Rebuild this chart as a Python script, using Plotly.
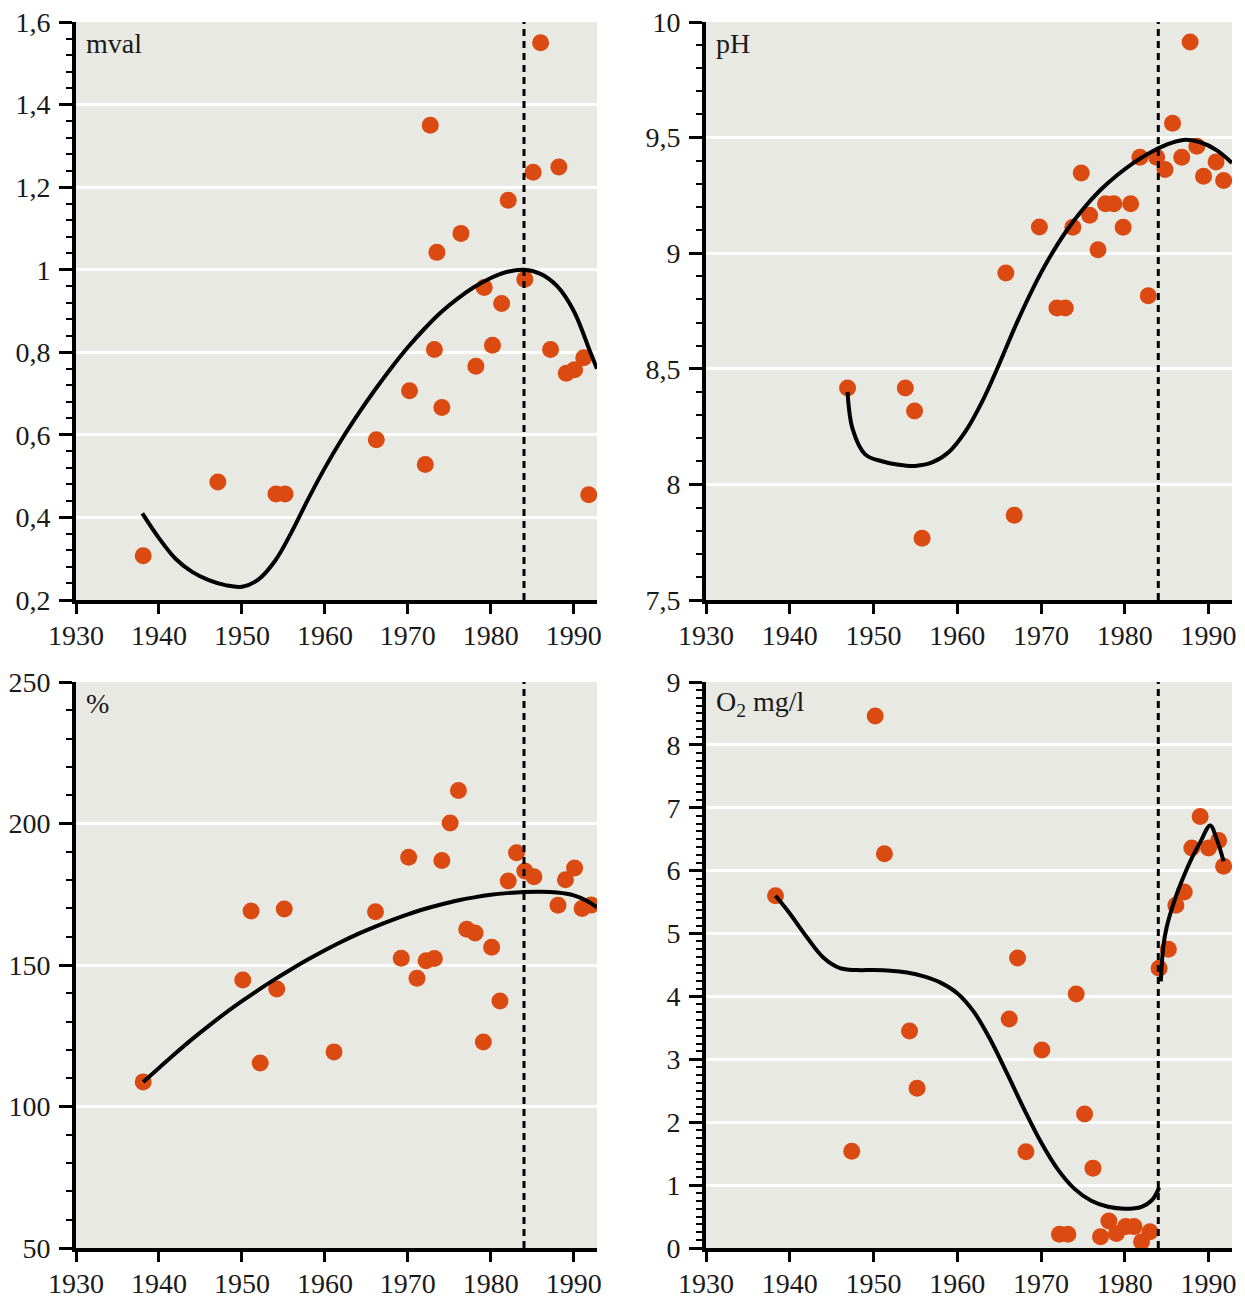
import plotly.graph_objects as go

# ---------------- data ----------------
year_ticks = [1930, 1940, 1950, 1960, 1970, 1980, 1990]
year_ticktext = ["1930", "1940", "1950", "1960", "1970", "1980", "1990"]
cutoff_year = 1984

# Panel 1: mval
mval_ticks = [0.2, 0.4, 0.6, 0.8, 1.0, 1.2, 1.4, 1.6]
mval_ticktext = ["0,2", "0,4", "0,6", "0,8", "1", "1,2", "1,4", "1,6"]
mval_year = [1938.1, 1947.1, 1954.1, 1955.2, 1966.2, 1970.2, 1972.1, 1972.7, 1973.2, 1973.5,
             1974.1, 1976.4, 1978.2, 1979.2, 1980.2, 1981.3, 1982.1, 1984.1, 1985.1, 1986.0,
             1987.2, 1988.2, 1989.1, 1990.1, 1991.2, 1991.8]
mval_val = [0.307, 0.486, 0.457, 0.457, 0.588, 0.707, 0.528, 1.35, 0.807, 1.042,
            0.666, 1.088, 0.766, 0.957, 0.817, 0.918, 1.168, 0.977, 1.236, 1.55,
            0.807, 1.249, 0.749, 0.758, 0.787, 0.455]
mval_curve_year = [1938, 1940, 1942, 1944, 1946, 1948, 1950, 1952, 1954, 1956, 1958, 1960,
                   1962, 1964, 1966, 1968, 1970, 1972, 1974, 1976, 1978, 1980, 1982, 1984,
                   1986, 1988, 1990, 1992, 1992.8]
mval_curve_val = [0.41, 0.35, 0.30, 0.268, 0.248, 0.236, 0.232, 0.25, 0.295, 0.365, 0.445, 0.52,
                  0.588, 0.65, 0.708, 0.762, 0.812, 0.857, 0.897, 0.93, 0.958, 0.98, 0.995, 1.0,
                  0.99, 0.96, 0.90, 0.80, 0.76]

# Panel 2: pH
ph_ticks = [7.5, 8, 8.5, 9, 9.5, 10]
ph_ticktext = ["7,5", "8", "8,5", "9", "9,5", "10"]
ph_year = [1946.9, 1953.8, 1954.9, 1955.8, 1965.8, 1966.8, 1969.8, 1971.9, 1972.9, 1973.8,
           1974.8, 1975.8, 1976.8, 1977.7, 1978.7, 1979.8, 1980.7, 1981.8, 1982.8, 1983.8,
           1984.8, 1985.7, 1986.8, 1987.8, 1988.6, 1989.4, 1990.9, 1991.8]
ph_val = [8.417, 8.417, 8.317, 7.767, 8.914, 7.867, 9.113, 8.763, 8.763, 9.112,
          9.347, 9.164, 9.015, 9.214, 9.214, 9.112, 9.214, 9.415, 8.816, 9.415,
          9.362, 9.562, 9.415, 9.913, 9.463, 9.333, 9.395, 9.314]
ph_curve_year = [1946.9, 1947.5, 1949, 1951, 1953, 1955, 1957, 1959, 1961, 1963, 1965, 1967,
                 1969, 1971, 1973, 1975, 1977, 1979, 1981, 1983, 1985, 1987, 1989, 1991, 1992.8]
ph_curve_val = [8.40, 8.24, 8.13, 8.10, 8.085, 8.08, 8.095, 8.14, 8.23, 8.36, 8.52, 8.69,
                8.845, 8.98, 9.095, 9.19, 9.27, 9.335, 9.39, 9.435, 9.47, 9.49, 9.48, 9.445, 9.39]

# Panel 3: percent saturation
pct_ticks = [50, 100, 150, 200, 250]
pct_ticktext = ["50", "100", "150", "200", "250"]
pct_year = [1938.1, 1950.1, 1951.1, 1952.2, 1954.2, 1955.1, 1961.1, 1966.1, 1969.2, 1970.1,
            1971.1, 1972.2, 1973.2, 1974.1, 1975.1, 1976.1, 1977.1, 1978.1, 1979.1, 1980.1,
            1981.1, 1982.1, 1983.1, 1984.1, 1985.2, 1988.1, 1989.0, 1990.1, 1991.0, 1992.1]
pct_val = [108.7, 144.7, 169.1, 115.4, 141.5, 169.8, 119.3, 168.8, 152.4, 188.1,
           145.3, 151.5, 152.3, 186.9, 200.2, 211.7, 162.6, 161.3, 122.8, 156.3,
           137.3, 179.7, 189.7, 183.2, 181.2, 171.1, 180.1, 184.3, 170.0, 171.2]
pct_curve_year = [1938.1, 1940, 1942, 1944, 1946, 1948, 1950, 1952, 1954, 1956, 1958, 1960,
                  1962, 1964, 1966, 1968, 1970, 1972, 1974, 1976, 1978, 1980, 1982, 1984,
                  1986, 1988, 1990, 1991.5, 1992.8]
pct_curve_val = [108.7, 113.6, 118.8, 123.8, 128.5, 133, 137.2, 141.2, 145, 148.6, 152, 155.2,
                 158.2, 161, 163.5, 165.8, 167.9, 169.8, 171.4, 172.8, 173.9, 174.8, 175.4, 175.8,
                 175.9, 175.6, 174.6, 172.8, 170.4]

# Panel 4: O2 mg/l
o2_ticks = [0, 1, 2, 3, 4, 5, 6, 7, 8, 9]
o2_ticktext = ["0", "1", "2", "3", "4", "5", "6", "7", "8", "9"]
o2_year = [1938.3, 1947.4, 1950.2, 1951.3, 1954.3, 1955.2, 1966.2, 1967.2, 1968.2, 1970.1,
           1972.2, 1973.2, 1974.2, 1975.2, 1976.2, 1977.1, 1978.1, 1979.0, 1980.1, 1981.1,
           1982.0, 1983.0, 1984.1, 1985.2, 1986.1, 1987.1, 1988.0, 1989.0, 1990.0, 1991.2,
           1991.8]
o2_val = [5.60, 1.54, 8.46, 6.27, 3.45, 2.54, 3.64, 4.61, 1.53, 3.15,
          0.22, 0.22, 4.04, 2.13, 1.27, 0.18, 0.43, 0.23, 0.34, 0.34,
          0.10, 0.26, 4.45, 4.75, 5.45, 5.66, 6.36, 6.86, 6.36, 6.48,
          6.07]
o2_curve1_year = [1938.3, 1940, 1942, 1944, 1946, 1948, 1950, 1952, 1954, 1956, 1958, 1960,
                  1962, 1964, 1966, 1968, 1970, 1972, 1974, 1976, 1978, 1980, 1982, 1983.3,
                  1984.1]
o2_curve1_val = [5.6, 5.32, 4.95, 4.62, 4.45, 4.42, 4.42, 4.41, 4.38, 4.32, 4.22, 4.05,
                 3.75, 3.3, 2.76, 2.2, 1.68, 1.25, 0.94, 0.75, 0.655, 0.625, 0.655, 0.77,
                 0.96]
o2_curve2_year = [1984.3, 1984.6, 1985, 1986, 1987, 1988, 1989, 1990.2, 1991, 1991.8]
o2_curve2_val = [4.24, 4.8, 5.1, 5.55, 5.9, 6.2, 6.45, 6.72, 6.49, 6.15]

# ---------------- styling ----------------
W, H = 1245, 1300
OFF = 8                      # page body margin in the browser
FW, FH = W - OFF, H - OFF    # figure size
FONT = "Liberation Serif"
FS = 28
TXT = "#1a1a1a"
DOT = "rgb(219,74,16)"
BG = "rgb(233,233,228)"
XRANGE = [1930, 1992.8]

panels = [
    dict(dx=(76, 597), dy=(22, 600), yr=[0.2, 1.6], yt=mval_ticks, ytt=mval_ticktext, minor=0.04,
         label="mval", pts=(mval_year, mval_val),
         curves=[(mval_curve_year, mval_curve_val)]),
    dict(dx=(706, 1232), dy=(22, 600), yr=[7.5, 10], yt=ph_ticks, ytt=ph_ticktext, minor=0.1,
         label="pH", pts=(ph_year, ph_val),
         curves=[(ph_curve_year, ph_curve_val)]),
    dict(dx=(76, 597), dy=(682, 1248), yr=[50, 250], yt=pct_ticks, ytt=pct_ticktext, minor=10,
         label="%", pts=(pct_year, pct_val),
         curves=[(pct_curve_year, pct_curve_val)]),
    dict(dx=(706, 1232), dy=(682, 1248), yr=[0, 9], yt=o2_ticks, ytt=o2_ticktext, minor=0.125,
         label="O<sub>2</sub> mg/l", pts=(o2_year, o2_val),
         curves=[(o2_curve1_year, o2_curve1_val), (o2_curve2_year, o2_curve2_val)]),
]

fig = go.Figure()
layout = dict(
    width=FW, height=FH,
    margin=dict(l=0, r=0, t=0, b=0, pad=0),
    paper_bgcolor="white",
    plot_bgcolor=BG,
    showlegend=False,
    font=dict(family=FONT, size=FS, color=TXT),
    shapes=[], annotations=[],
)

for i, p in enumerate(panels, start=1):
    sx = "" if i == 1 else str(i)
    xa, ya = "x" + sx, "y" + sx
    x0, x1 = p["dx"][0] - OFF, p["dx"][1] - OFF
    y0, y1 = p["dy"][0] - OFF, p["dy"][1] - OFF
    layout["xaxis" + sx] = dict(
        domain=[x0 / FW, x1 / FW], range=XRANGE, anchor=ya,
        tickvals=year_ticks, ticktext=year_ticktext, ticks="outside", ticklen=10,
        tickwidth=3, tickcolor="black", showline=True, linewidth=4, linecolor="black",
        showgrid=False, zeroline=False, automargin=False, fixedrange=True,
        ticklabelstandoff=-3, ticklabeloverflow="allow",
        tickfont=dict(family=FONT, size=FS, color=TXT),
    )
    layout["yaxis" + sx] = dict(
        domain=[1 - y1 / FH, 1 - y0 / FH], range=p["yr"], anchor=xa,
        tickvals=p["yt"], ticktext=p["ytt"], ticks="outside", ticklen=13,
        tickwidth=3, tickcolor="black", showline=True, linewidth=4, linecolor="black",
        showgrid=True, gridcolor="white", gridwidth=3, zeroline=False,
        automargin=False, fixedrange=True, ticklabelstandoff=3,
        ticklabeloverflow="allow",
        minor=dict(dtick=p["minor"], tick0=p["yr"][0], ticks="outside", ticklen=6,
                   tickwidth=2, tickcolor="black", showgrid=False),
        tickfont=dict(family=FONT, size=FS, color=TXT),
    )
    fig.add_trace(go.Scatter(
        x=p["pts"][0], y=p["pts"][1], mode="markers", xaxis=xa, yaxis=ya,
        marker=dict(size=17, color=DOT, line=dict(width=0)),
    ))
    for cx, cy in p["curves"]:
        fig.add_trace(go.Scatter(
            x=cx, y=cy, mode="lines", xaxis=xa, yaxis=ya,
            line=dict(color="black", width=4, shape="spline", smoothing=1.0),
        ))
    layout["shapes"].append(dict(
        type="line", xref=xa, yref=ya + " domain", x0=cutoff_year, x1=cutoff_year,
        y0=0, y1=1, line=dict(color="black", width=3, dash="7px,5px"), layer="above",
    ))
    layout["annotations"].append(dict(
        text=p["label"], xref=xa + " domain", yref=ya + " domain",
        x=8 / (x1 - x0), y=1 - 21 / (y1 - y0),
        xanchor="left", yanchor="middle", showarrow=False,
        font=dict(family=FONT, size=FS, color=TXT),
    ))

fig.update_layout(**layout)
fig.write_html("out.html")
